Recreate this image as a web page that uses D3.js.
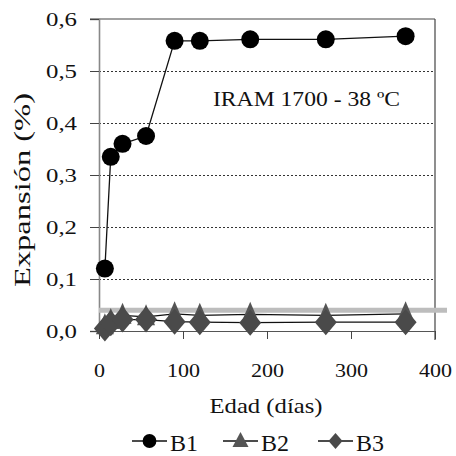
<!DOCTYPE html>
<html>
<head>
<meta charset="utf-8">
<script src="https://cdn.jsdelivr.net/npm/d3@7"></script>
<style>
  body { margin: 0; background: #fff; }
  svg text { font-family: "Liberation Serif", Tinos, "Times New Roman", "DejaVu Serif", serif; fill: #111; }
</style>
</head>
<body>
<svg id="chart" width="456" height="456"></svg>
<script>
// data
var days = [7, 14, 28, 56, 90, 120, 180, 270, 365];
var b1 = [0.12, 0.335, 0.36, 0.375, 0.558, 0.558, 0.561, 0.561, 0.567];
var b2 = [0.010, 0.020, 0.030, 0.027, 0.033, 0.030, 0.032, 0.030, 0.033];
var b3 = [0.005, 0.015, 0.022, 0.022, 0.018, 0.017, 0.016, 0.017, 0.017];
var yTicks = [0, 0.1, 0.2, 0.3, 0.4, 0.5, 0.6];
var xTicks = [0, 100, 200, 300, 400];
var limit = 0.04;   // gray reference line
var seriesNames = ["B1", "B2", "B3"];

var svg = d3.select("#chart");

var x = d3.scaleLinear().domain([0, 400]).range([99, 435]);
var y = d3.scaleLinear().domain([0, 0.6]).range([331, 19]);

var fmt = function(d) { return d3.format(".1f")(d).replace(".", ","); };

// marker shapes
function triPath(w, h) {
  return "M0," + (-h * 0.6) + "L" + w + "," + (h * 0.4) + "L" + (-w) + "," + (h * 0.4) + "Z";
}
function diaPath(w, h) {
  return "M0," + (-h) + "L" + w + ",0L0," + h + "L" + (-w) + ",0Z";
}

// dotted grid
svg.append("g").selectAll("line")
  .data(yTicks.filter(function(d) { return d > 0 && d < 0.6; }))
  .enter().append("line")
  .attr("x1", x(0)).attr("x2", x(400))
  .attr("y1", function(d) { return y(d) + 0.5; })
  .attr("y2", function(d) { return y(d) + 0.5; })
  .attr("stroke", "#333").attr("stroke-width", 1)
  .attr("stroke-dasharray", "2,2");

// frame top / right
svg.append("line").attr("x1", 90).attr("x2", x(400))
  .attr("y1", y(0.6)).attr("y2", y(0.6))
  .attr("stroke", "#444").attr("stroke-width", 1.2);
svg.append("line").attr("x1", x(400)).attr("x2", x(400))
  .attr("y1", y(0.6)).attr("y2", y(0) + 9)
  .attr("stroke", "#444").attr("stroke-width", 1.2);

// y axis
var yAxis = svg.append("g")
  .attr("transform", "translate(" + x(0) + ",0)")
  .call(d3.axisLeft(y).tickValues(yTicks).tickFormat(fmt).tickSize(9).tickPadding(13));
yAxis.attr("font-family", null);
yAxis.select(".domain").attr("stroke", "#888").attr("stroke-width", 1.6);
yAxis.selectAll(".tick line").attr("stroke", "#444");
yAxis.selectAll(".tick text")
  .style("font-size", "19px")
  .attr("fill", "#111").attr("dy", "0.35em")
  .attr("textLength", 31).attr("lengthAdjust", "spacingAndGlyphs");

// x axis
var xAxis = svg.append("g")
  .attr("transform", "translate(0," + y(0) + ")")
  .call(d3.axisBottom(x).tickValues(xTicks).tickSize(8).tickPadding(25).tickSizeOuter(0));
xAxis.attr("font-family", null);
xAxis.select(".domain").attr("stroke", "#555").attr("stroke-width", 1.2);
xAxis.selectAll(".tick line").attr("stroke", "#444");
xAxis.selectAll(".tick text")
  .style("font-size", "19px")
  .attr("fill", "#111")
  .attr("textLength", function(d) { return String(d).length * 11; })
  .attr("lengthAdjust", "spacingAndGlyphs");

// gray limit line
svg.append("line")
  .attr("x1", x(0)).attr("x2", x(400) + 12)
  .attr("y1", y(limit)).attr("y2", y(limit))
  .attr("stroke", "#bdbdbd").attr("stroke-width", 5);

var line = d3.line()
  .x(function(d) { return x(d[0]); })
  .y(function(d) { return y(d[1]); });

function pairs(vals) { return days.map(function(d, i) { return [d, vals[i]]; }); }

// B3 and B2 lines
svg.append("path").datum(pairs(b3)).attr("d", line)
  .attr("fill", "none").attr("stroke", "#111").attr("stroke-width", 1.2);
svg.append("path").datum(pairs(b2)).attr("d", line)
  .attr("fill", "none").attr("stroke", "#111").attr("stroke-width", 1.2);

svg.append("g").selectAll("path")
  .data(pairs(b2)).enter().append("path")
  .attr("d", triPath(9, 21))
  .attr("transform", function(d) { return "translate(" + x(d[0]) + "," + y(d[1]) + ")"; })
  .attr("fill", "#555");

svg.append("g").selectAll("path")
  .data(pairs(b3)).enter().append("path")
  .attr("d", diaPath(11, 13))
  .attr("transform", function(d) { return "translate(" + x(d[0]) + "," + y(d[1]) + ")"; })
  .attr("fill", "#4a4a4a");

// B1 circles
svg.append("path").datum(pairs(b1)).attr("d", line)
  .attr("fill", "none").attr("stroke", "#111").attr("stroke-width", 1.3);
svg.append("g").selectAll("circle")
  .data(pairs(b1)).enter().append("circle")
  .attr("cx", function(d) { return x(d[0]); })
  .attr("cy", function(d) { return y(d[1]); })
  .attr("r", 9)
  .attr("fill", "#000");

// annotation
svg.append("text").attr("x", 213).attr("y", 106)
  .style("font-size", "22px")
  .attr("textLength", 187).attr("lengthAdjust", "spacingAndGlyphs")
  .text("IRAM 1700 - 38 ºC");

// axis titles
svg.append("text")
  .attr("transform", "translate(30,190) rotate(-90)")
  .attr("text-anchor", "middle")
  .style("font-size", "23px")
  .attr("textLength", 194).attr("lengthAdjust", "spacingAndGlyphs")
  .text("Expansión (%)");

svg.append("text").attr("x", 266).attr("y", 413)
  .attr("text-anchor", "middle")
  .style("font-size", "22px")
  .attr("textLength", 113).attr("lengthAdjust", "spacingAndGlyphs")
  .text("Edad (días)");

// legend
var legX = [132, 223, 318];
var leg = svg.append("g").selectAll("g")
  .data(seriesNames).enter().append("g")
  .attr("transform", function(d, i) { return "translate(" + legX[i] + ",441)"; });
leg.append("line").attr("x1", 0).attr("x2", 35)
  .attr("stroke", "#111").attr("stroke-width", 1.5);
leg.append("path")
  .attr("transform", "translate(17.5,0)")
  .attr("d", function(d, i) {
    if (i === 0) return d3.symbol(d3.symbolCircle, 150)();
    if (i === 1) return triPath(8, 15);
    return diaPath(7, 8);
  })
  .attr("fill", function(d, i) { return ["#000", "#555", "#4a4a4a"][i]; });
leg.append("text").attr("x", 38).attr("y", 10)
  .style("font-size", "24px")
  .text(function(d) { return d; });
</script>
</body>
</html>
